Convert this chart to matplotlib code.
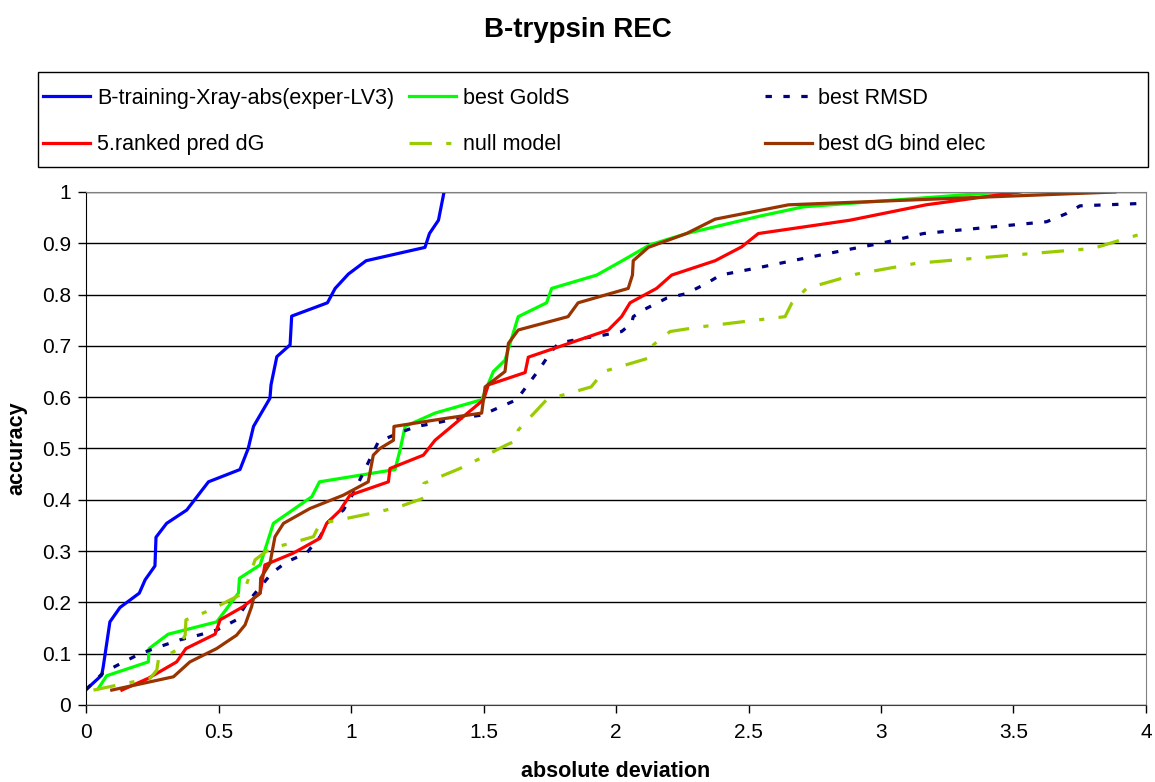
import matplotlib.pyplot as plt
from matplotlib.patches import Rectangle

plt.rcParams['font.family'] = ['Liberation Sans', 'DejaVu Sans']

# B-training-Xray-abs(exper-LV3)
xray_x = [0.0, 0.059, 0.065, 0.09, 0.128, 0.201, 0.223, 0.26, 0.264, 0.304, 0.38, 0.462, 0.581,
          0.612, 0.632, 0.694, 0.698, 0.72, 0.77, 0.776, 0.911, 0.94, 0.99, 1.057, 1.279, 1.296,
          1.33, 1.351]
xray_y = [0.030, 0.058, 0.075, 0.162, 0.19, 0.218, 0.244, 0.271, 0.327, 0.354, 0.38, 0.435, 0.459,
          0.5, 0.543, 0.598, 0.624, 0.679, 0.702, 0.758, 0.784, 0.812, 0.84, 0.866, 0.892, 0.919,
          0.945, 1.0]

# best GoldS
golds_x = [0.046, 0.078, 0.235, 0.238, 0.31, 0.493, 0.575, 0.579, 0.657, 0.707, 0.852, 0.881,
           1.166, 1.185, 1.204, 1.317, 1.493, 1.537, 1.581, 1.631, 1.738, 1.757, 1.927, 2.027,
           2.128, 2.266, 2.543, 2.706, 3.46]
golds_y = [0.032, 0.057, 0.084, 0.11, 0.138, 0.162, 0.218, 0.247, 0.273, 0.354, 0.406, 0.435,
           0.459, 0.497, 0.543, 0.569, 0.595, 0.65, 0.672, 0.757, 0.784, 0.812, 0.838, 0.867,
           0.897, 0.919, 0.953, 0.971, 1.0]

# best RMSD
rmsd_x = [0.0, 0.065, 0.135, 0.204, 0.279, 0.355, 0.424, 0.493, 0.568, 0.606, 0.701, 0.757,
          0.832, 0.883, 0.914, 0.971, 1.009, 1.103, 1.179, 1.248, 1.323, 1.405, 1.493, 1.625,
          1.713, 1.751, 1.783, 1.877, 1.953, 2.021, 2.059, 2.065, 2.103, 2.191, 2.266, 2.342,
          2.394, 2.543, 2.694, 2.858, 3.009, 3.084, 3.16, 3.625, 3.7, 3.751, 4.0]
rmsd_y = [0.030, 0.063, 0.082, 0.1, 0.114, 0.127, 0.136, 0.146, 0.166, 0.198, 0.257, 0.279,
          0.296, 0.328, 0.357, 0.38, 0.413, 0.513, 0.53, 0.543, 0.55, 0.559, 0.565, 0.595,
          0.656, 0.686, 0.705, 0.715, 0.721, 0.728, 0.744, 0.757, 0.77, 0.793, 0.802, 0.822,
          0.838, 0.853, 0.869, 0.886, 0.901, 0.91, 0.919, 0.942, 0.958, 0.973, 0.978]

# 5.ranked pred dG
pred_x = [0.135, 0.235, 0.342, 0.377, 0.487, 0.506, 0.594, 0.657, 0.675, 0.782, 0.883, 0.908,
          0.958, 0.996, 1.141, 1.147, 1.273, 1.317, 1.5, 1.518, 1.657, 1.669, 1.971, 2.021, 2.053,
          2.153, 2.21, 2.374, 2.474, 2.537, 2.883, 3.17, 3.525]
pred_y = [0.029, 0.052, 0.084, 0.11, 0.138, 0.166, 0.192, 0.218, 0.273, 0.296, 0.325, 0.354,
          0.379, 0.409, 0.435, 0.461, 0.487, 0.516, 0.595, 0.624, 0.648, 0.678, 0.731, 0.757,
          0.784, 0.812, 0.838, 0.866, 0.893, 0.919, 0.945, 0.975, 1.0]

# null model
null_x = [0.028, 0.242, 0.267, 0.273, 0.342, 0.374, 0.377, 0.455, 0.518, 0.594, 0.638, 0.694,
          0.77, 0.858, 0.883, 0.958, 1.109, 1.185, 1.273, 1.275, 1.411, 1.462, 1.587, 1.627,
          1.631, 1.738, 1.906, 1.953, 2.122, 2.141, 2.204, 2.317, 2.638, 2.663, 2.719, 2.908,
          3.134, 3.36, 3.801, 3.864, 4.0]
null_y = [0.029, 0.052, 0.068, 0.088, 0.107, 0.136, 0.166, 0.182, 0.198, 0.218, 0.283, 0.305,
          0.315, 0.328, 0.354, 0.361, 0.377, 0.387, 0.403, 0.432, 0.461, 0.474, 0.507, 0.516,
          0.536, 0.595, 0.62, 0.65, 0.676, 0.702, 0.728, 0.737, 0.757, 0.783, 0.812, 0.84,
          0.861, 0.871, 0.89, 0.9, 0.921]

# best dG bind elec
elec_x = [0.097, 0.33, 0.392, 0.493, 0.568, 0.6, 0.625, 0.632, 0.657, 0.659, 0.694, 0.713, 0.745,
          0.845, 0.971, 1.065, 1.084, 1.109, 1.16, 1.162, 1.336, 1.493, 1.506, 1.581, 1.594,
          1.631, 1.819, 1.857, 2.046, 2.062, 2.065, 2.122, 2.266, 2.374, 2.651, 3.883]
elec_y = [0.029, 0.055, 0.084, 0.11, 0.136, 0.156, 0.192, 0.208, 0.218, 0.247, 0.276, 0.328,
          0.354, 0.383, 0.409, 0.435, 0.487, 0.5, 0.516, 0.543, 0.557, 0.569, 0.62, 0.65, 0.705,
          0.731, 0.757, 0.784, 0.812, 0.838, 0.866, 0.892, 0.919, 0.947, 0.975, 1.0]

x_ticks = [0, 0.5, 1, 1.5, 2, 2.5, 3, 3.5, 4]
x_ticklabels = ['0', '0.5', '1', '1.5', '2', '2.5', '3', '3.5', '4']
y_ticks = [0, 0.1, 0.2, 0.3, 0.4, 0.5, 0.6, 0.7, 0.8, 0.9, 1.0]
y_ticklabels = ['0', '0.1', '0.2', '0.3', '0.4', '0.5', '0.6', '0.7', '0.8', '0.9', '1']

fig = plt.figure(figsize=(11.55, 7.82), dpi=100)
ax = fig.add_axes([0.0745, 0.0985, 0.9177, 0.656])

lw = 2.3
l_xray, = ax.plot(xray_x, xray_y, color='#0000FF', lw=lw, label='B-training-Xray-abs(exper-LV3)')
l_golds, = ax.plot(golds_x, golds_y, color='#00FF00', lw=lw, label='best GoldS')
l_rmsd, = ax.plot(rmsd_x, rmsd_y, color='#000080', lw=lw, linestyle=(0, (2.0, 3.6)),
                  label='best RMSD')
l_pred, = ax.plot(pred_x, pred_y, color='#FF0000', lw=lw, label='5.ranked pred dG')
l_null, = ax.plot(null_x, null_y, color='#99CC00', lw=lw, linestyle=(0, (7, 4.5, 1.6, 4.5)),
                  label='null model')
l_elec, = ax.plot(elec_x, elec_y, color='#993300', lw=lw, label='best dG bind elec')

ax.set_xlim(0, 4)
ax.set_ylim(0, 1)
ax.set_xticks(x_ticks)
ax.set_xticklabels(x_ticklabels)
ax.set_yticks(y_ticks)
ax.set_yticklabels(y_ticklabels)
ax.tick_params(labelsize=15, direction='out', length=6, width=1, colors='black')
ax.tick_params(axis='x', pad=7)
ax.tick_params(axis='y', pad=5)
ax.grid(axis='y', color='black', lw=1)
ax.set_axisbelow(True)
ax.spines['top'].set_color('#808080')
ax.spines['right'].set_color('#808080')
ax.spines['left'].set_color('black')
ax.spines['bottom'].set_color('#404040')

ax.set_xlabel('absolute deviation', fontsize=15.5, fontweight='bold', labelpad=14)
ax.set_ylabel('accuracy', fontsize=15.5, fontweight='bold', labelpad=10)

fig.text(0.5, 0.962, 'B-trypsin REC', ha='center', va='center', fontsize=20, fontweight='bold')

# legend frame + three columns
fig.add_artist(Rectangle((0.0329, 0.7864), 0.961, 0.1215, transform=fig.transFigure,
                         facecolor='white', edgecolor='black', lw=1))
columns = [([l_xray, l_pred], 0.0372), ([l_golds, l_null], 0.354), ([l_rmsd, l_elec], 0.662)]
for hs, x0 in columns:
    leg = fig.legend(handles=hs, labels=[h.get_label() for h in hs], loc='center left',
                     bbox_to_anchor=(x0, 0.8447), fontsize=15.5, frameon=False,
                     handlelength=2.2, handletextpad=0.3, labelspacing=1.2,
                     borderpad=0, borderaxespad=0)

fig.savefig('out.png', dpi=100)
